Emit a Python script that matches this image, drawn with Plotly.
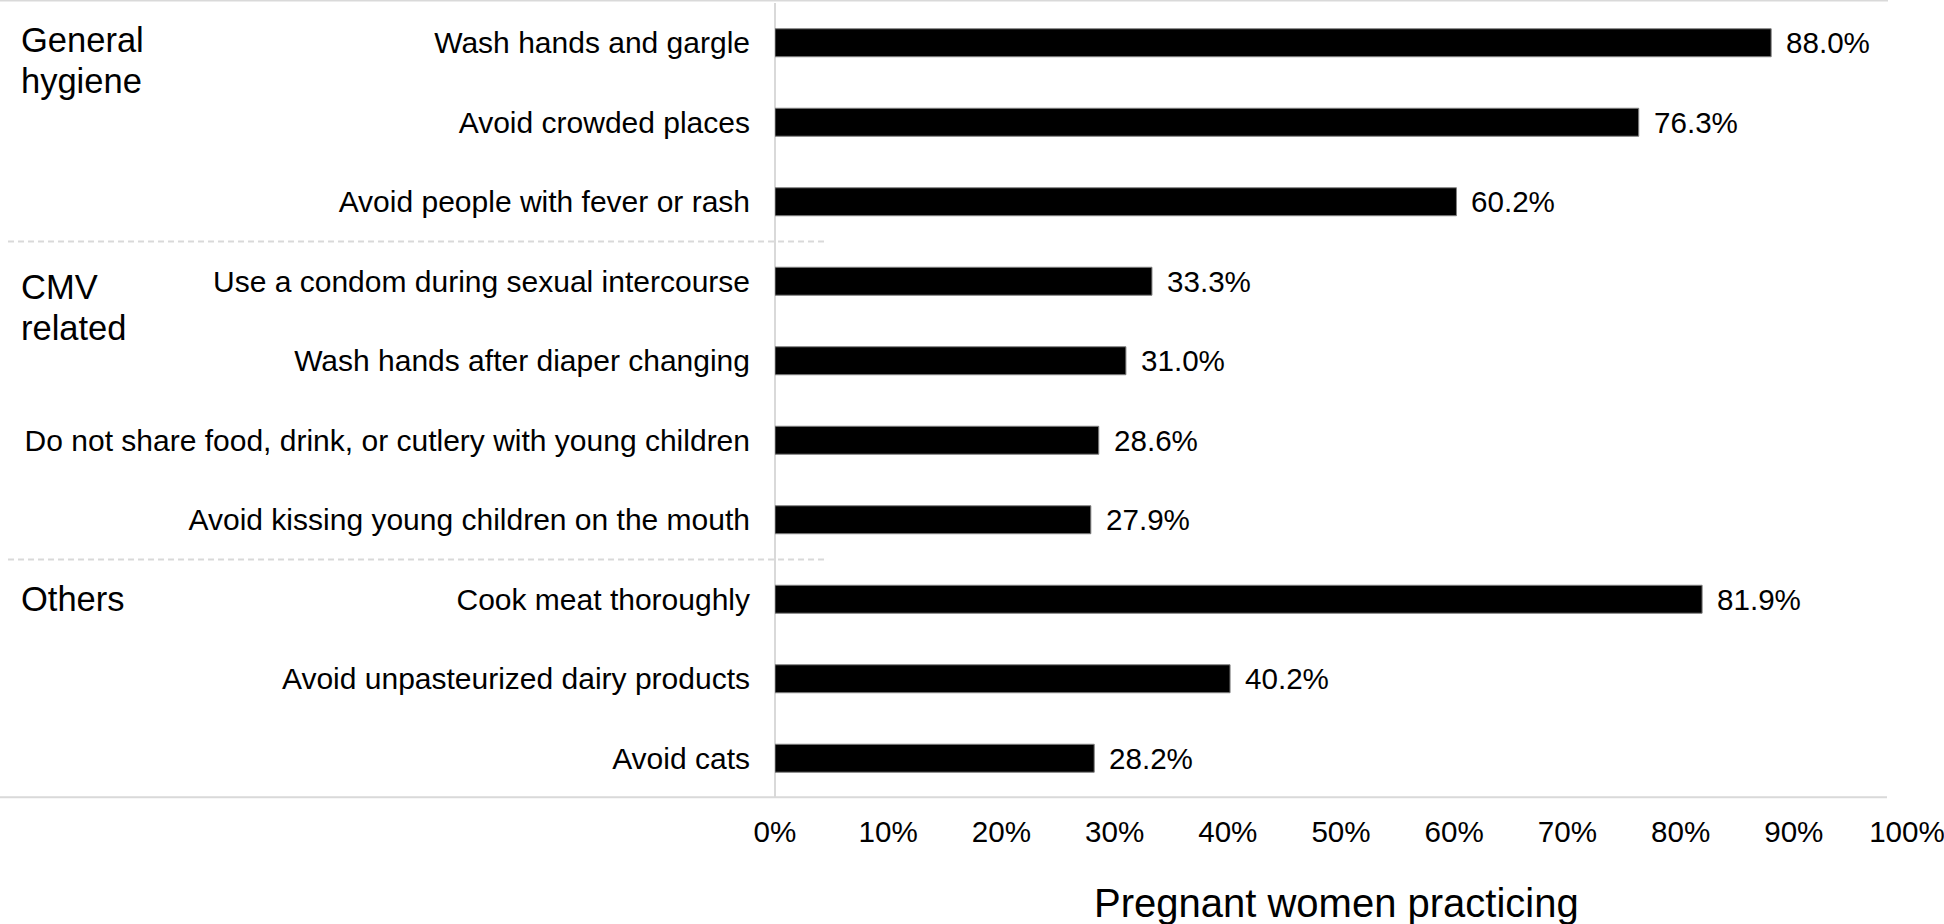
import plotly.graph_objects as go

# data
categories = [
    "Wash hands and gargle",
    "Avoid crowded places",
    "Avoid people with fever or rash",
    "Use a condom during sexual intercourse",
    "Wash hands after diaper changing",
    "Do not share food, drink, or cutlery with young children",
    "Avoid kissing young children on the mouth",
    "Cook meat thoroughly",
    "Avoid unpasteurized dairy products",
    "Avoid cats",
]
values = [88.0, 76.3, 60.2, 33.3, 31.0, 28.6, 27.9, 81.9, 40.2, 28.2]
groups = ["General hygiene", "CMV related", "Others"]
group_sizes = [3, 4, 3]
x_ticks = [0, 10, 20, 30, 40, 50, 60, 70, 80, 90, 100]
x_ticktext = [f"{t}%" for t in x_ticks]

FONT = "Liberation Sans, Arial, sans-serif"
GRID = "#d9d9d9"

W, H = 1944, 924
L, R, T, B = 775, 37, 3, 126
pw = W - L - R


def px_to_paper(xpx):
    return (xpx - L) / pw


fig = go.Figure(go.Bar(
    x=values,
    y=categories,
    orientation="h",
    marker=dict(color="black", line=dict(color="#808080", width=1)),
    hoverinfo="x+y",
))

# value labels right of each bar
for cat, v in zip(categories, values):
    fig.add_annotation(
        x=v, y=cat, xref="x", yref="y",
        text=f"{v:.1f}%", showarrow=False,
        xanchor="left", xshift=13,
        font=dict(size=29.6, color="black", family=FONT),
    )

# group labels at the left, aligned with the first item of each group
group_lines = [["General", "hygiene"], ["CMV", "related"], ["Others"]]
group_offsets = [-3, 6, 0]
start = 0
for name, size, lines, off in zip(groups, group_sizes, group_lines, group_offsets):
    first = categories[start]
    for i, line in enumerate(lines):
        fig.add_annotation(
            x=px_to_paper(19), y=first, xref="paper", yref="y",
            text=line, showarrow=False, xanchor="left", align="left",
            yshift=-(off + i * 41),
            font=dict(size=34.5, color="black", family=FONT),
        )
    start += size
    # dashed separator between groups
    if start < len(categories):
        yb = 1 - start / len(categories)
        fig.add_shape(
            type="line", xref="paper", yref="paper",
            x0=px_to_paper(8), x1=px_to_paper(828), y0=yb, y1=yb,
            line=dict(color=GRID, width=2, dash="6px,4px"),
        )

# top and bottom rules
fig.add_shape(type="line", xref="paper", yref="paper",
              x0=px_to_paper(0), x1=px_to_paper(1888), y0=1.003, y1=1.003,
              line=dict(color=GRID, width=2))
fig.add_shape(type="line", xref="paper", yref="paper",
              x0=px_to_paper(0), x1=px_to_paper(1887), y0=0.001, y1=0.001,
              line=dict(color=GRID, width=2))

# axis title
fig.add_annotation(
    x=px_to_paper(1336), y=-0.132, xref="paper", yref="paper",
    text="Pregnant women practicing", showarrow=False,
    xanchor="center", yanchor="middle",
    font=dict(size=40, color="black", family=FONT),
)

fig.update_layout(
    width=W, height=H,
    margin=dict(l=L, r=R, t=T, b=B, pad=0),
    paper_bgcolor="white",
    plot_bgcolor="white",
    font=dict(family=FONT, color="black"),
    bargap=0.648,
    showlegend=False,
    xaxis=dict(
        range=[0, 100], tickvals=x_ticks, ticktext=x_ticktext,
        showgrid=False, showline=False, ticks="",
        zeroline=True, zerolinecolor=GRID, zerolinewidth=1.5,
        tickfont=dict(size=29.6, color="black", family=FONT),
        ticklabelstandoff=13, ticklabeloverflow="allow",
        automargin=False, fixedrange=True,
    ),
    yaxis=dict(
        range=[len(categories) - 0.5, -0.5],
        showgrid=False, showline=False, ticks="",
        tickfont=dict(size=30, color="black", family=FONT),
        ticklabelstandoff=24, automargin=False, fixedrange=True,
    ),
)

fig.write_html(
    "out.html",
    config={"displayModeBar": False},
    post_script="document.body.style.margin='0';",
)
